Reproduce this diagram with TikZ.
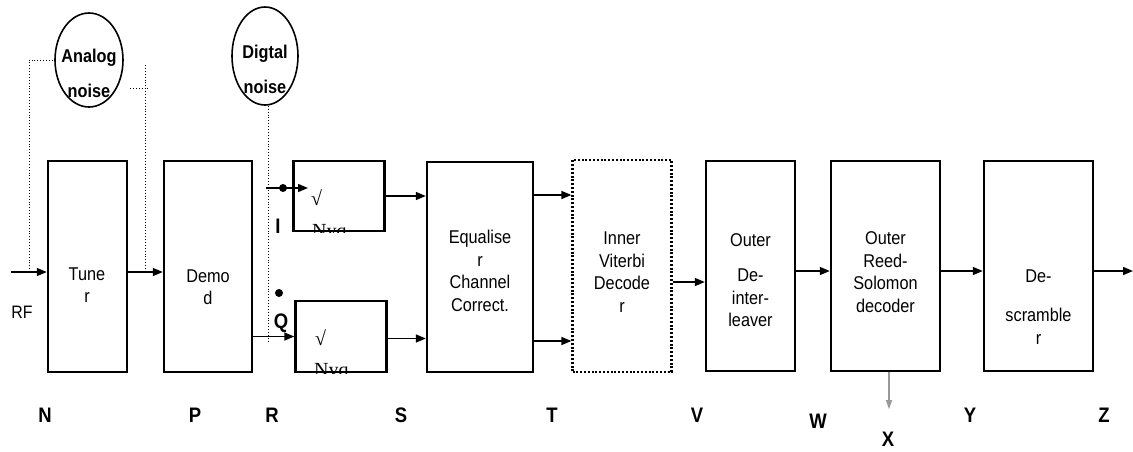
\documentclass[tikz,border=0pt]{standalone}
\usepackage{fontspec}
\setmainfont{Liberation Sans}[FakeStretch=0.88]
\newfontfamily\nyqfont{Liberation Serif}
\usetikzlibrary{shapes.geometric, arrows.meta, positioning}

\begin{document}
\begin{tikzpicture}[x=1pt, y=-1pt,
    block/.style={rectangle, draw=black, line width=2.4pt, inner sep=0pt},
    vitblock/.style={block, line width=2.2pt, dash pattern=on 2pt off 1.8pt},
    btext/.style={align=center, inner sep=0pt, font=\fontsize{18.5}{22.5}\selectfont},
    noise/.style={ellipse, draw=black, line width=1.6pt, inner sep=0pt},
    ntext/.style={align=center, inner sep=0pt, font=\fontsize{18.5}{35}\selectfont\bfseries},
    line/.style={draw=black, line width=1.5pt, -{Triangle[length=10pt,width=8pt]}},
    probe/.style={draw=black, dotted, line width=0.9pt},
    tag/.style={inner sep=0pt, font=\fontsize{21}{21}\selectfont\bfseries},
    nyq/.style={anchor=base west, inner sep=0pt, font=\nyqfont\fontsize{20}{20}\selectfont}
]
    \useasboundingbox (0,0) rectangle (1133,451);

    % --- Blocks ---
    \node [block, minimum width=79pt, minimum height=211pt] (tuner) at (87.5,266.5) {};
    \node [block, minimum width=88pt, minimum height=211pt] (demod) at (208,266.5) {};
    \node [block, minimum width=91pt, minimum height=70pt] (nyqI) at (339,196) {};
    \node [block, minimum width=91pt, minimum height=71pt] (nyqQ) at (341,336.5) {};
    \node [block, minimum width=106pt, minimum height=210pt] (equal) at (480,267) {};
    \node [vitblock, minimum width=99pt, minimum height=212pt] (viterbi) at (622,266) {};
    \node [block, minimum width=89pt, minimum height=210pt] (deint) at (750.5,266) {};
    \node [block, minimum width=109pt, minimum height=210pt] (rsdec) at (885.5,266) {};
    \node [block, minimum width=109pt, minimum height=210pt] (descr) at (1038.5,266) {};

    % Block texts
    \node [btext] at (87,285) {Tune\\r};
    \node [btext] at (208,287) {Demo\\d};
    \node [btext] at (480,271) {Equalise\\r\\Channel\\Correct.};
    \node [btext] at (622,272) {Inner\\Viterbi\\Decode\\r};
    \node [btext] at (750.5,280) {Outer\\[13pt]De-\\inter-\\leaver};
    \node [btext] at (885.5,272) {Outer\\Reed-\\Solomon\\decoder};
    \node [btext] at (1038.5,307) {De-\\[17pt]scramble\\r};

    % Nyquist filters (text cut by the box)
    \begin{scope}
        \clip (nyqI.south west) rectangle (nyqI.north east);
        \node [nyq] at (311,205) {√};
        \node [nyq] at (312,237) {Nyq};
    \end{scope}
    \begin{scope}
        \clip (nyqQ.south west) rectangle (nyqQ.north east);
        \node [nyq] at (315,345) {√};
        \node [nyq] at (314,376) {Nyq};
    \end{scope}

    % --- Noise sources ---
    \node [noise, minimum width=68pt, minimum height=94pt] (anoise) at (89,60) {};
    \node [ntext] at (89,73) {Analog\\noise};
    \node [noise, minimum width=66pt, minimum height=98pt] (dnoise) at (265,56) {};
    \node [ntext] at (265,69) {Digtal\\noise};

    % --- Connections ---
    \coordinate (rfin) at (11,272);
    \coordinate (iin) at (266,188);
    \coordinate (itip) at (308,188);
    \coordinate (sink) at (1133,271);

    \path [line] (rfin) -- (rfin -| tuner.west);
    \path [line] (tuner.east |- rfin) -- (demod.west |- rfin);
    \path [line] (demod.east |- nyqQ.west) -- (nyqQ.west);
    \path [line] (iin) -- (itip);
    \path [line] (nyqI.east) -- (nyqI.east -| equal.west);
    \path [line] ([yshift=-2pt]nyqQ.east) -- ([yshift=-2pt]nyqQ.east -| equal.west);
    \path [line] ([yshift=1pt]equal.east |- nyqI.east) -- ([yshift=1pt]viterbi.west |- nyqI.east);
    \path [line] ([yshift=-4.5pt]equal.east |- nyqQ.east) -- ([yshift=-4.5pt]viterbi.west |- nyqQ.east);
    \path [line] ([yshift=-16pt]viterbi.east) -- ([yshift=-16pt]deint.west);
    \path [line] ([yshift=-5pt]deint.east) -- ([yshift=-5pt]rsdec.west);
    \path [line] ([yshift=-5pt]rsdec.east) -- ([yshift=-5pt]descr.west);
    \path [line] (descr.east |- sink) -- (sink);
    \path [line, draw=gray!80, line width=1.1pt, -{Triangle[length=9pt,width=6pt]}, gray!80] ([xshift=3.5pt]rsdec.south) -- ++(0,37);

    % I / Q taps
    \fill (283,188) circle (4pt);
    \fill (279,293) circle (4pt);
    \node [tag] at (278,226) {I};
    \node [tag] at (281,323) {Q};

    % Noise injection
    \coordinate (anl) at (29,272);
    \coordinate (anr) at (145,273);
    \path [probe] (anl) |- (anoise.west);
    \path [probe] (145,65) -- (anr);
    \path [probe] (130,88) -- (150,88);
    \path [probe] ([xshift=3pt]dnoise.south) -- ++(0,237);

    % --- Labels ---
    \node [inner sep=0pt, font=\fontsize{18}{18}\selectfont] at (22,312) {RF};
    \node [tag] at (45,415) {N};
    \node [tag] at (195,415) {P};
    \node [tag] at (272,415) {R};
    \node [tag] at (401,415) {S};
    \node [tag] at (552,415) {T};
    \node [tag] at (697,415) {V};
    \node [tag] at (818,421) {W};
    \node [tag] at (888,439) {X};
    \node [tag] at (970,415) {Y};
    \node [tag] at (1104,415) {Z};

\end{tikzpicture}
\end{document}
